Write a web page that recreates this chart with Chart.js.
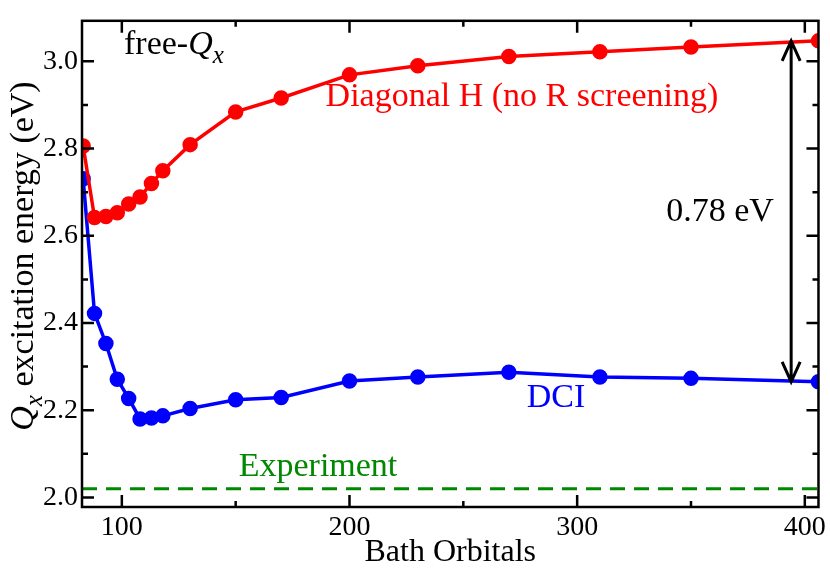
<!DOCTYPE html>
<html>
<head>
<meta charset="utf-8">
<script src="https://cdn.jsdelivr.net/npm/chart.js@4"></script>
<style>
  body { margin: 0; background: #fff; }
  #wrap { width: 830px; height: 572px; }
</style>
</head>
<body>
<div id="wrap"><canvas id="grafico"></canvas></div>
<script>
const orbitales = [83, 88, 93, 98, 103, 108, 113, 118, 130, 150, 170, 200, 230, 270, 310, 350, 406];
const diagonalH = [2.806, 2.642, 2.644, 2.653, 2.673, 2.689, 2.72, 2.749, 2.809, 2.884, 2.916, 2.969, 2.99, 3.011, 3.022, 3.033, 3.047];
const dci = [2.731, 2.422, 2.353, 2.271, 2.227, 2.18, 2.182, 2.187, 2.204, 2.224, 2.229, 2.267, 2.276, 2.287, 2.276, 2.273, 2.265];
const experimento = 2.02;
const xTicks = [100, 200, 300, 400];
const yTicks = [2.0, 2.2, 2.4, 2.6, 2.8, 3.0];

const serif = '"Liberation Serif", "DejaVu Serif", serif';

const extras = {
  id: 'extras',
  afterDraw(chart) {
    const { ctx, chartArea: a, scales: { x, y } } = chart;
    ctx.save();
    ctx.strokeStyle = '#000';
    ctx.lineWidth = 2.5;
    ctx.strokeRect(a.left, a.top, a.right - a.left, a.bottom - a.top);

    // ticks hacia adentro
    ctx.beginPath();
    for (let v = 50; v <= 400; v += 50) {
      const px = x.getPixelForValue(v);
      if (px < a.left || px > a.right) continue;
      const len = v % 100 === 0 ? 12 : 6;
      ctx.moveTo(px, a.bottom); ctx.lineTo(px, a.bottom - len);
      ctx.moveTo(px, a.top); ctx.lineTo(px, a.top + len);
    }
    for (let v = 2.0; v <= 3.05; v += 0.1) {
      const py = y.getPixelForValue(v);
      const len = Math.round(v * 10) % 2 === 0 ? 12 : 6;
      ctx.moveTo(a.left, py); ctx.lineTo(a.left + len, py);
      ctx.moveTo(a.right, py); ctx.lineTo(a.right - len, py);
    }
    ctx.stroke();

    // flecha 0.78 eV
    const ax = x.getPixelForValue(394);
    const y1 = y.getPixelForValue(diagonalH[diagonalH.length - 1]);
    const y2 = y.getPixelForValue(dci[dci.length - 1]);
    ctx.lineWidth = 3;
    ctx.beginPath();
    ctx.moveTo(ax, y1); ctx.lineTo(ax, y2);
    ctx.moveTo(ax - 9, y1 + 20); ctx.lineTo(ax, y1); ctx.lineTo(ax + 9, y1 + 20);
    ctx.moveTo(ax - 9, y2 - 20); ctx.lineTo(ax, y2); ctx.lineTo(ax + 9, y2 - 20);
    ctx.stroke();

    ctx.textBaseline = 'middle';
    ctx.textAlign = 'center';
    ctx.font = '34px ' + serif;
    ctx.fillStyle = '#000';
    ctx.fillText('0.78 eV', 720, 212);
    ctx.fillStyle = '#ff0000';
    ctx.fillText('Diagonal H (no R screening)', 522, 97);
    ctx.fillStyle = '#0000ff';
    ctx.fillText('DCI', 556, 398);
    ctx.fillStyle = '#008800';
    ctx.fillText('Experiment', 318, 467);

    // free-Qx
    ctx.fillStyle = '#000';
    ctx.textAlign = 'left';
    ctx.fillText('free-', 124, 45);
    let w = ctx.measureText('free-').width;
    ctx.font = 'italic 34px ' + serif;
    ctx.fillText('Q', 124 + w, 45);
    w += ctx.measureText('Q').width;
    ctx.font = 'italic 25px ' + serif;
    ctx.fillText('x', 124 + w, 56);

    // titulo eje y
    ctx.translate(24, 256);
    ctx.rotate(-Math.PI / 2);
    const rest = ' excitation energy (eV)';
    ctx.font = '34px ' + serif;
    const wr = ctx.measureText(rest).width;
    ctx.font = 'italic 34px ' + serif;
    const wq = ctx.measureText('Q').width;
    ctx.font = 'italic 25px ' + serif;
    const wx = ctx.measureText('x').width;
    const sx = -(wq + wx + wr) / 2;
    ctx.font = 'italic 34px ' + serif;
    ctx.fillText('Q', sx, 0);
    ctx.font = 'italic 25px ' + serif;
    ctx.fillText('x', sx + wq, 11);
    ctx.font = '34px ' + serif;
    ctx.fillText(rest, sx + wq + wx, 0);
    ctx.restore();
  }
};

const serie = (label, data, color) => ({
  label,
  data: orbitales.map((o, i) => ({ x: o, y: data[i] })),
  borderColor: color,
  backgroundColor: color,
  borderWidth: 3.5,
  pointRadius: 6,
  pointHoverRadius: 6,
  tension: 0
});

new Chart(document.getElementById('grafico'), {
  type: 'line',
  data: {
    datasets: [
      serie('Diagonal H', diagonalH, '#ff0000'),
      serie('DCI', dci, '#0000ff'),
      {
        label: 'Experiment',
        data: [{ x: 82.5, y: experimento }, { x: 406, y: experimento }],
        borderColor: '#008800',
        borderWidth: 3,
        borderDash: [15, 9],
        pointRadius: 0
      }
    ]
  },
  options: {
    responsive: true,
    maintainAspectRatio: false,
    animation: false,
    layout: { padding: { top: -8, right: 10, left: 0, bottom: 0 } },
    plugins: { legend: { display: false }, tooltip: { enabled: false } },
    scales: {
      x: {
        type: 'linear',
        min: 82.5,
        max: 406,
        afterBuildTicks: s => { s.ticks = xTicks.map(v => ({ value: v })); },
        afterFit: s => { s.height = 65; },
        grid: { display: false, drawTicks: false },
        border: { display: false },
        ticks: { color: '#000', font: { family: serif, size: 28 }, padding: 4 },
        title: { display: true, text: 'Bath Orbitals', color: '#000', font: { family: serif, size: 32 }, padding: 0 }
      },
      y: {
        min: 1.978,
        max: 3.093,
        afterBuildTicks: s => { s.ticks = yTicks.map(v => ({ value: v })); },
        afterFit: s => { s.width = 82; },
        grid: { display: false, drawTicks: false },
        border: { display: false },
        ticks: { color: '#000', font: { family: serif, size: 28 }, padding: 4, callback: v => v.toFixed(1) }
      }
    }
  },
  plugins: [extras]
});
</script>
</body>
</html>
